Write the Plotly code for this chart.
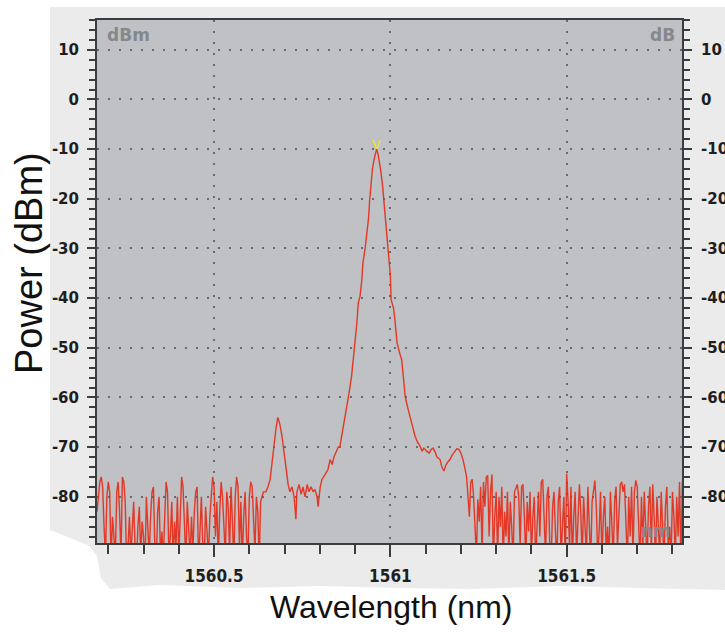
import numpy as np
import plotly.graph_objects as go

# ---------------- data ----------------
noise_step = 0.004
noise_left_start = 1560.168
noise_left_dbm = [
    -83, -79, -77, -76, -78, -86, -92, -80, -77, -79,
    -93, -84, -88, -92, -79, -77, -83, -92, -76, -77,
    -81, -93, -90, -84, -92, -87, -81, -90, -93, -86,
    -82, -92, -85, -88, -94, -80, -86, -92, -84, -79,
    -78, -90, -93, -83, -80, -92, -87, -93, -84, -77,
    -79, -92, -88, -81, -93, -85, -90, -80, -92, -84,
    -76, -78, -89, -93, -81, -86, -92, -84, -91, -83,
    -79, -78, -93, -87, -80, -90, -93, -82, -86, -92,
    -84, -79, -76, -78, -88, -81, -93, -83, -77, -80,
    -86, -92, -79, -82, -91, -78, -85, -93, -80, -76,
    -78, -90, -81, -93, -84, -79, -88, -92, -80, -77,
    -78, -85, -91, -80, -83, -93, -81, -80, -79,
]

signal_wl = [
    1560.647, 1560.653, 1560.659, 1560.664, 1560.670, 1560.676, 1560.681, 1560.687,
    1560.693, 1560.698, 1560.704, 1560.710, 1560.715, 1560.721, 1560.727, 1560.732,
    1560.735, 1560.741, 1560.747, 1560.752, 1560.758, 1560.764, 1560.769, 1560.775,
    1560.781, 1560.786, 1560.792, 1560.795, 1560.801, 1560.806, 1560.815, 1560.823,
    1560.829, 1560.835, 1560.840, 1560.846, 1560.852, 1560.857, 1560.863, 1560.869,
    1560.876, 1560.883, 1560.890, 1560.894, 1560.900, 1560.905, 1560.909, 1560.914,
    1560.919, 1560.922, 1560.928, 1560.934, 1560.938, 1560.941, 1560.945, 1560.949,
    1560.954, 1560.958, 1560.961, 1560.965, 1560.969, 1560.973, 1560.978, 1560.981,
    1560.985, 1560.988, 1560.992, 1560.995, 1560.998, 1561.000, 1561.002, 1561.005,
    1561.009, 1561.013, 1561.019, 1561.026, 1561.032, 1561.037, 1561.042, 1561.049,
    1561.056, 1561.063, 1561.070, 1561.077, 1561.084, 1561.090, 1561.095, 1561.103,
    1561.110, 1561.115, 1561.121, 1561.127, 1561.132, 1561.141, 1561.146, 1561.152,
    1561.158, 1561.163, 1561.169, 1561.176, 1561.183, 1561.189, 1561.195, 1561.200,
    1561.206, 1561.212, 1561.216, 1561.220,
]
signal_dbm = [
    -79, -78, -76.5, -73, -70, -66, -64, -65.5,
    -68, -71, -74.5, -77.5, -79, -78, -80, -84.5,
    -79, -77.5, -79.5, -78, -80, -77.5, -79, -78,
    -79, -78.5, -80, -82, -78, -76.5, -75.5, -74.5,
    -72.5, -73.5, -72, -71, -70, -69.8, -67.5, -65,
    -62.4, -59, -55.7, -53, -49.5, -45, -41, -39.6,
    -36.3, -33, -30.2, -27, -24, -20.5, -17, -14,
    -12, -10.8, -10, -11, -12.5, -14.5, -17.5, -20.2,
    -23.5, -25.6, -29.5, -32.3, -34, -35.5, -40.3, -41,
    -42, -44.5, -49, -51, -52.4, -56, -59.8, -62,
    -64, -66, -67.8, -69, -69.8, -70.8, -70.2, -70.8,
    -71.2, -70.5, -70.2, -71, -72, -72.5, -74, -74.8,
    -73.5, -73, -72.5, -71.5, -70.8, -70.3, -70.5, -71.2,
    -72.5, -74.5, -75.9, -79.9,
]

noise_right_start = 1561.224
noise_right_dbm = [
    -84, -77, -76.5, -80, -88, -92, -80.5, -85, -78, -91,
    -77, -82, -76, -75.7, -88, -79, -75.5, -93, -84, -79,
    -92, -80, -86, -78, -93, -83, -88, -79, -92, -81,
    -86, -93, -79, -78, -77.5, -80, -90, -78, -77.5, -84,
    -93, -81, -87, -79, -92, -84, -80, -93, -86, -79,
    -88, -77, -76.5, -83, -92, -80, -78, -90, -93, -82,
    -79, -87, -93, -81, -78, -92, -85, -80, -93, -75.3,
    -81, -90, -78, -93, -84, -79, -92, -86, -77.5, -83,
    -93, -80, -88, -92, -78, -85, -93, -81, -79, -76.7,
    -82, -92, -87, -79, -93, -84, -80, -91, -86, -93,
    -79, -88, -92, -81, -78, -90, -84, -77.5, -77, -79,
    -77.5, -85, -93, -80, -88, -78, -92, -79, -76.7, -78,
    -84, -93, -80, -90, -79, -86, -93, -82, -78, -91,
    -77.5, -84, -93, -80, -88, -92, -79, -85, -93, -82,
    -78, -90, -86, -93, -79, -84, -92, -80, -88, -77,
    -93, -77,
]

x_tick_vals = [1560.5, 1561.0, 1561.5]
x_tick_text = ["1560.5", "1561", "1561.5"]
y_tick_vals = [-80, -70, -60, -50, -40, -30, -20, -10, 0, 10]
y_tick_text = ["-80", "-70", "-60", "-50", "-40", "-30", "-20", "-10", "0", "10"]
x_range = [1560.168, 1561.827]
y_range = [-89.3, 16.0]

# ---------------- assemble trace ----------------
wl_left = noise_left_start + noise_step * np.arange(len(noise_left_dbm))
wl_right = noise_right_start + noise_step * np.arange(len(noise_right_dbm))
wl = np.concatenate([wl_left, np.array(signal_wl), wl_right])
pw = np.concatenate([np.array(noise_left_dbm, float), np.array(signal_dbm, float),
                     np.array(noise_right_dbm, float)])
ipk = int(np.argmax(pw))

# ---------------- layout geometry ----------------
W, H = 725, 633
L, R, T, B = 97, 682, 20, 543


def px(x):
    return (x - L) / (R - L)


def py(y):
    return (B - y) / (B - T)


fig = go.Figure()
fig.add_trace(go.Scatter(
    x=wl, y=pw, mode="lines",
    line=dict(color="rgba(232,40,20,0.9)", width=1.4),
    hoverinfo="skip", showlegend=False, cliponaxis=True,
))
# invisible trace to activate right-hand axis
fig.add_trace(go.Scatter(x=[wl[0]], y=[pw[0]], yaxis="y2", mode="lines",
                         line=dict(width=0), hoverinfo="skip", showlegend=False))

# peak marker (yellow chevron)
fig.add_annotation(x=wl[ipk], y=pw[ipk], text="V", showarrow=False,
                   xanchor="center", yanchor="bottom", yshift=-5,
                   font=dict(color="#ece626", size=13, family="DejaVu Sans"))

# background: scanned light-grey sheet with torn bottom edge, then plot area
sheet = [(50, 7), (725, 7), (725, 590), (640, 588), (560, 586), (470, 589), (400, 588),
         (320, 586), (240, 588), (160, 585), (110, 589), (101, 578), (97, 556),
         (88, 545), (70, 538), (58, 533), (50, 530)]
path = "M " + " L ".join(f"{px(a):.4f},{py(b):.4f}" for a, b in sheet) + " Z"
fig.add_shape(type="path", path=path, xref="paper", yref="paper",
              fillcolor="#ebebeb", line=dict(width=0), layer="below")
fig.add_shape(type="rect", x0=0, x1=1, y0=0, y1=1, xref="paper", yref="paper",
              fillcolor="#bfc1c4", line=dict(width=0), layer="below")

ytick_font = dict(family="DejaVu Sans", size=15, color="#1e1e1e", weight="bold")
xtick_font = dict(family="Liberation Sans Narrow, DejaVu Sans Condensed, DejaVu Sans",
                  size=17, color="#1e1e1e", weight="bold")
axis_col = "#3a3d40"
grid_col = "#646b72"

fig.update_layout(
    width=W, height=H,
    margin=dict(l=L, r=W - R, t=T, b=H - B, pad=0, autoexpand=False),
    paper_bgcolor="white", plot_bgcolor="rgba(0,0,0,0)",
    xaxis=dict(
        range=x_range, tickmode="array", tickvals=x_tick_vals, ticktext=x_tick_text,
        ticks="outside", ticklen=12, tickwidth=1.5, tickcolor=axis_col,
        tickfont=xtick_font, ticklabelstandoff=5, automargin=False,
        minor=dict(tickmode="linear", tick0=1560.0, dtick=0.1, ticks="outside",
                   ticklen=9, tickwidth=1.5, tickcolor=axis_col, showgrid=False),
        showline=True, linecolor=axis_col, linewidth=2, mirror=True,
        showgrid=True, gridcolor=grid_col, gridwidth=1.5, griddash="2px,9px",
        zeroline=False,
    ),
    yaxis=dict(
        range=y_range, tickmode="array", tickvals=y_tick_vals, ticktext=y_tick_text,
        ticks="outside", ticklen=8, tickwidth=1.5, tickcolor=axis_col,
        tickfont=ytick_font, ticklabelstandoff=5, automargin=False,
        minor=dict(tickmode="linear", tick0=0, dtick=2, ticks="outside",
                   ticklen=6, tickwidth=1.5, tickcolor=axis_col, showgrid=False),
        showline=True, linecolor=axis_col, linewidth=2,
        showgrid=True, gridcolor=grid_col, gridwidth=1.5, griddash="2px,9px",
        zeroline=False,
    ),
    yaxis2=dict(
        range=y_range, overlaying="y", side="right",
        tickmode="array", tickvals=y_tick_vals, ticktext=y_tick_text,
        ticks="outside", ticklen=8, tickwidth=1.5, tickcolor=axis_col,
        tickfont=ytick_font, ticklabelstandoff=6, automargin=False,
        minor=dict(tickmode="linear", tick0=0, dtick=2, ticks="outside",
                   ticklen=6, tickwidth=1.5, tickcolor=axis_col, showgrid=False),
        showline=True, linecolor=axis_col, linewidth=2,
        showgrid=False, zeroline=False,
    ),
    showlegend=False,
)

corner_font = dict(family="DejaVu Sans", size=17, color="#85888c", weight="bold")
fig.add_annotation(text="dBm", x=px(105), y=py(35), xref="paper", yref="paper",
                   xanchor="left", yanchor="middle", showarrow=False, font=corner_font)
fig.add_annotation(text="dB", x=px(677), y=py(35), xref="paper", yref="paper",
                   xanchor="right", yanchor="middle", showarrow=False, font=corner_font)
fig.add_annotation(text="nm", x=px(673), y=py(531), xref="paper", yref="paper",
                   xanchor="right", yanchor="middle", showarrow=False, font=corner_font)

fig.add_annotation(text="Power (dBm)", x=px(29), y=py(263), xref="paper", yref="paper",
                   textangle=-90, showarrow=False,
                   font=dict(family="Liberation Sans", size=38, color="#111111"),
                   xanchor="center", yanchor="middle")
fig.add_annotation(text="Wavelength (nm)", x=px(391), y=py(607), xref="paper", yref="paper",
                   showarrow=False,
                   font=dict(family="Liberation Sans", size=32, color="#111111"),
                   xanchor="center", yanchor="middle")

fig.write_html("out.html")
